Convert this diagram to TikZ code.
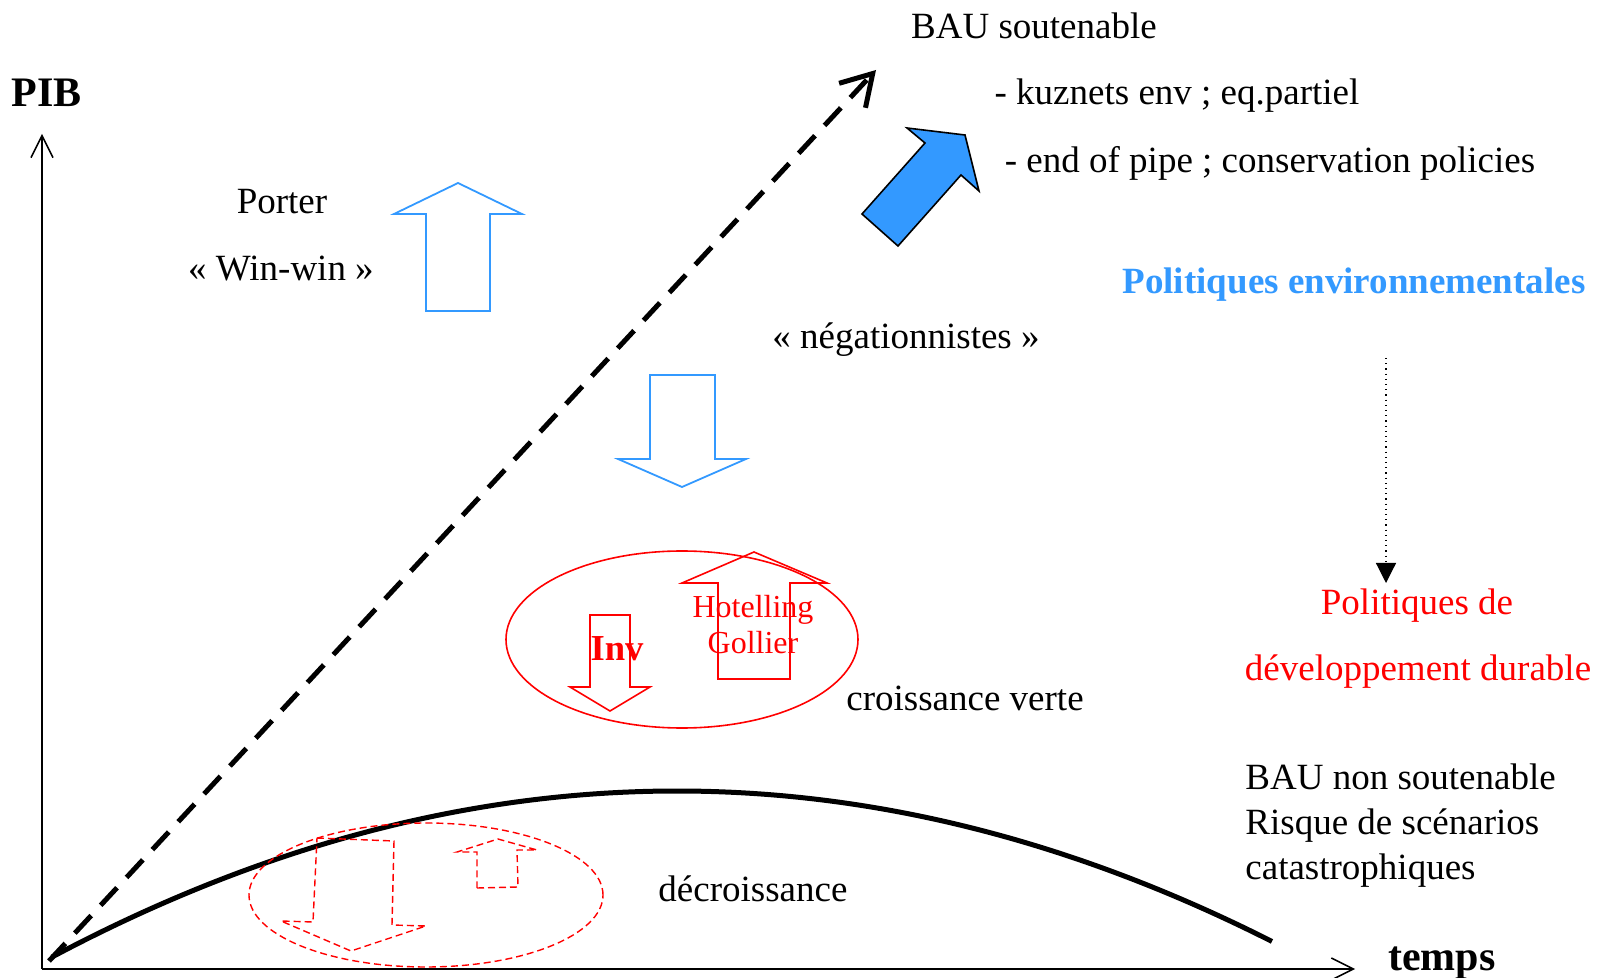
\documentclass[tikz,border=0pt]{standalone}
\usepackage{fontspec}
\setmainfont{Liberation Serif}
\usepackage{tikz}
\usetikzlibrary{arrows.meta, calc, positioning}
\definecolor{polblue}{RGB}{51,153,255}
\tikzset{%
    txt/.style={%
        inner sep=0pt,
        font=\fontsize{18.5}{22.5}\selectfont,
        text centered,
    },
    txtred/.style={%
        txt,
        text=red,
    },
    axislabel/.style={%
        inner sep=0pt,
        font=\fontsize{21}{25}\selectfont\bfseries,
    },
    axis/.style={%
        line width=0.75pt,
        -{Straight Barb[length=11pt, width=11pt]},
    },
    bau/.style={%
        line width=2.5pt,
        dash pattern=on 12pt off 7pt,
        -{Straight Barb[length=15pt, width=18pt, line width=2.5pt]},
    },
    trend/.style={%
        line width=2.5pt,
    },
    hollowblue/.style={%
        draw=polblue, line width=0.9pt,
    },
    fillblue/.style={%
        draw=black, fill=polblue, line width=0.8pt, line join=miter,
    },
    hollowred/.style={%
        draw=red, line width=0.8pt,
    },
    dashedred/.style={%
        draw=red, line width=0.7pt,
        dash pattern=on 3.5pt off 2pt,
    },
    policyshift/.style={%
        line width=0.6pt, dotted,
        -{Triangle[length=10pt, width=10pt]},
    },
}

\begin{document}
\begin{tikzpicture}[x=0.5pt, y=-0.5pt]
	\useasboundingbox (0,0) rectangle (1608,978);
	\coordinate (origin) at (42,969);
	\coordinate (y_end) at (42,134);
	\coordinate (x_end) at (1355,969);
	\coordinate (bau_start) at (49,961);
	\coordinate (bau_end) at (876,70);
	\coordinate (shift_top) at (1386,358);
	\coordinate (shift_end) at (1386,583);

	% axes
	\draw[axis] (origin) -- (y_end);
	\draw[axis] (origin) -- (x_end);
	\node[axislabel] (pib) at (47,93) {PIB};
	\node[axislabel] (temps) at (1442,963) {temps};

	% scenarios
	\draw[bau] (bau_start) -- (bau_end);
	\draw[trend] plot[domain=52:1272, samples=80, smooth] (\x, {791 + 4.25*((\x-677)/100)^2});

	\node[txt] (bau_sout) at (1034,26) {BAU soutenable};
	\node[txt] (kuznets) at (1177,96) {- kuznets env ; eq.partiel};
	\node[txt] (endpipe) at (1270,163) {- end of pipe ; conservation policies};
	\node[txt] (porter) at (282,202) {Porter};
	\node[txt] (winwin) at (281,269) {« Win-win »};
	\node[txt, text=polblue, font=\fontsize{18.5}{22.5}\selectfont\bfseries] (polenv) at (1354,285) {Politiques environnementales};
	\node[txt] (nega) at (906,340) {« négationnistes »};
	\node[txtred] (poldd) at (1417,606) {Politiques de};
	\node[txtred] (poldd2) at (1418,672) {développement durable};
	\node[txt] (verte) at (965,698) {croissance verte};
	\node[txt, anchor=west, align=left] (baunon) at (1245,826) {BAU non soutenable\\Risque de scénarios\\catastrophiques};
	\node[txt] (decroiss) at (753,889) {décroissance};

	\draw[policyshift] (shift_top) -- (shift_end);

	% block arrows
	\draw[fillblue] (862,214) -- (898,246) -- (961,175) -- (979,191) -- (965,135) -- (907,128) -- (925,143) -- cycle;
	\draw[hollowblue] (426,311) -- (426,214) -- (394,214) -- (458,183) -- (522,214) -- (490,214) -- (490,311) -- cycle;
	\draw[hollowblue] (650,375) -- (715,375) -- (715,459) -- (746,459) -- (682,487) -- (618,459) -- (650,459) -- cycle;

	% croissance verte
	\draw[hollowred] (682,639.5) ellipse [x radius=88pt, y radius=44.25pt];
	\draw[hollowred] (590,615) -- (630,615) -- (630,687) -- (650,687) -- (610,711) -- (570,687) -- (590,687) -- cycle;
	\draw[hollowred] (718,679) -- (718,583) -- (682,583) -- (754,552) -- (827,583) -- (790,583) -- (790,679) -- cycle;
	\node[txtred, font=\fontsize{18.3}{20}\selectfont\bfseries] (inv) at (617,649) {Inv};
	\node[txtred, font=\fontsize{16}{18}\selectfont, align=center] (hotelling) at (753,625) {Hotelling\\Gollier};

	% decroissance
	\draw[dashedred] (426,895) ellipse [x radius=88.5pt, y radius=36pt];
	\draw[dashedred] (317,838) -- (394,841) -- (392,925) -- (426,926) -- (351,951) -- (281,921) -- (313,922) -- cycle;
	\draw[dashedred] (477,888) -- (518,887) -- (517,850) -- (537,850) -- (498,839) -- (457,852) -- (477,852) -- cycle;
\end{tikzpicture}
\end{document}
